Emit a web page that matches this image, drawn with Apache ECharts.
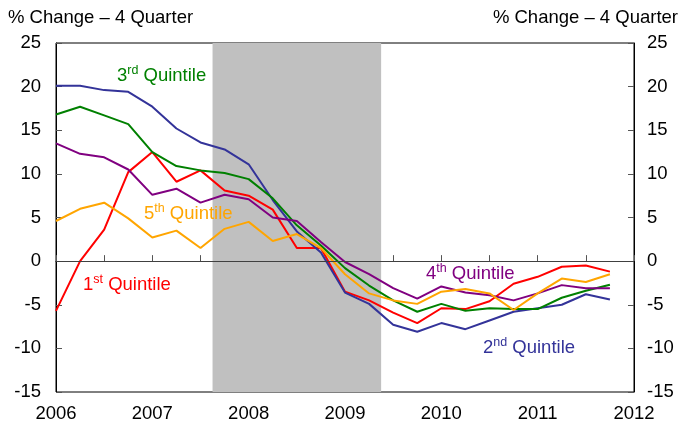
<!DOCTYPE html>
<html>
<head>
  <meta charset="UTF-8">
  <title>Quintiles</title>
  <script src="https://cdn.jsdelivr.net/npm/echarts@6/dist/echarts.min.js"></script>
  <style>
    html, body { margin: 0; padding: 0; background: #fff; }
    #main { width: 686px; height: 435px; }
  </style>
</head>
<body>
<div id="main"></div>
<script>
  // quarters as fractional years, 2006Q1 .. 2011Q4
  var quarters = [2006, 2006.25, 2006.5, 2006.75, 2007, 2007.25, 2007.5, 2007.75,
    2008, 2008.25, 2008.5, 2008.75, 2009, 2009.25, 2009.5, 2009.75,
    2010, 2010.25, 2010.5, 2010.75, 2011, 2011.25, 2011.5, 2011.75];

  var q1 = [-5.7, 0.0, 3.6, 10.2, 12.5, 9.1, 10.4, 8.1, 7.5, 5.9, 1.5, 1.5,
    -3.5, -4.5, -5.9, -7.1, -5.4, -5.5, -4.6, -2.6, -1.8, -0.65, -0.5, -1.2];
  var q2 = [20.1, 20.1, 19.6, 19.4, 17.7, 15.2, 13.6, 12.8, 11.1, 7.0, 3.4, 1.0,
    -3.6, -4.9, -7.3, -8.1, -7.1, -7.8, -6.8, -5.8, -5.4, -5.0, -3.8, -4.4];
  var q3 = [16.8, 17.7, 16.7, 15.7, 12.5, 10.9, 10.4, 10.1, 9.4, 7.2, 4.1, 1.8,
    -0.8, -2.8, -4.5, -5.8, -4.9, -5.7, -5.4, -5.5, -5.5, -4.2, -3.4, -2.7];
  var q4 = [13.5, 12.3, 11.9, 10.5, 7.6, 8.3, 6.7, 7.6, 7.1, 5.0, 4.6, 2.2,
    -0.1, -1.5, -3.1, -4.3, -2.9, -3.6, -3.9, -4.5, -3.7, -2.75, -3.1, -3.1];
  var q5 = [4.6, 6.0, 6.7, 4.9, 2.7, 3.5, 1.5, 3.7, 4.5, 2.3, 3.1, 1.5,
    -1.5, -3.7, -4.5, -4.9, -3.5, -3.2, -3.7, -5.6, -3.7, -2.0, -2.4, -1.5];

  var recession = [2007.625, 2009.375];

  var names = ['1st Quintile', '2nd Quintile', '3rd Quintile', '4th Quintile', '5th Quintile'];
  var colors = ['#ff0000', '#333399', '#008000', '#800080', '#ffa500'];
  var values = [q1, q2, q3, q4, q5];

  function pairs(vals) {
    return vals.map(function (v, i) { return [quarters[i], v]; });
  }

  var series = values.map(function (vals, k) {
    return {
      name: names[k],
      type: 'line',
      data: pairs(vals),
      showSymbol: false,
      symbol: 'none',
      lineStyle: { color: colors[k], width: 2 },
      itemStyle: { color: colors[k] },
      z: 3
    };
  });
  // recession shading hangs off the first series
  series[0].markArea = {
    silent: true,
    itemStyle: { color: '#c0c0c0' },
    data: [[{ xAxis: recession[0] }, { xAxis: recession[1] }]]
  };
  // zero line
  series.push({
    type: 'line',
    data: [],
    z: 2,
    markLine: {
      silent: true,
      symbol: 'none',
      label: { show: false },
      lineStyle: { color: '#404040', width: 1.2, type: 'solid' },
      data: [{ yAxis: 0 }]
    }
  });

  var font = 'Liberation Sans, Arial, sans-serif';
  var fs = 18.5;

  function tag(x, y, color, num, sup) {
    return {
      type: 'text',
      left: x,
      top: y,
      z: 10,
      style: {
        text: '{n|' + num + '}{s|' + sup + '}{n| Quintile}',
        rich: {
          n: { fontSize: fs, fontFamily: font, fill: color, color: color, verticalAlign: 'bottom', lineHeight: 21 },
          s: { fontSize: 12.5, fontFamily: font, fill: color, color: color, verticalAlign: 'top', lineHeight: 21, padding: [0, 0, 7, 0] }
        }
      }
    };
  }

  var chart = echarts.init(document.getElementById('main'));
  chart.setOption({
    animation: false,
    backgroundColor: '#fff',
    textStyle: { fontFamily: font },
    grid: { left: 56, right: 52, top: 43, bottom: 43, show: true, borderColor: '#000', borderWidth: 1 },
    xAxis: {
      type: 'value',
      min: 2006,
      max: 2012,
      interval: 0.5,
      splitLine: { show: false },
      axisLine: { lineStyle: { color: '#000', width: 1 } },
      axisTick: { inside: true, length: 6, lineStyle: { color: '#555' } },
      axisLabel: {
        fontSize: fs, color: '#000', margin: 12, fontFamily: font,
        formatter: function (v) { return v % 1 === 0 ? String(v) : ''; }
      }
    },
    yAxis: [{
      type: 'value',
      min: -15,
      max: 25,
      interval: 5,
      position: 'left',
      splitLine: { show: false },
      axisLine: { show: true, lineStyle: { color: '#000' } },
      axisTick: { show: true, inside: true, length: 6, lineStyle: { color: '#555' } },
      axisLabel: { fontSize: fs, color: '#000', margin: 15, fontFamily: font }
    }, {
      type: 'value',
      min: -15,
      max: 25,
      interval: 5,
      position: 'right',
      splitLine: { show: false },
      axisLine: { show: true, lineStyle: { color: '#000' } },
      axisTick: { show: true, inside: true, length: 6, lineStyle: { color: '#555' } },
      axisLabel: { fontSize: fs, color: '#000', margin: 13, fontFamily: font }
    }],
    graphic: [
      { type: 'text', left: 8, top: 8, style: { text: '% Change – 4 Quarter', fontSize: fs, fontFamily: font, fill: '#000' } },
      { type: 'text', right: 8, top: 8, style: { text: '% Change – 4 Quarter', fontSize: fs, fontFamily: font, fill: '#000' } },
      tag(117, 64, colors[2], '3', 'rd'),
      tag(144, 202, colors[4], '5', 'th'),
      tag(83, 273, colors[0], '1', 'st'),
      tag(426, 262, colors[3], '4', 'th'),
      tag(483, 336, colors[1], '2', 'nd')
    ],
    series: series
  });
</script>
</body>
</html>
